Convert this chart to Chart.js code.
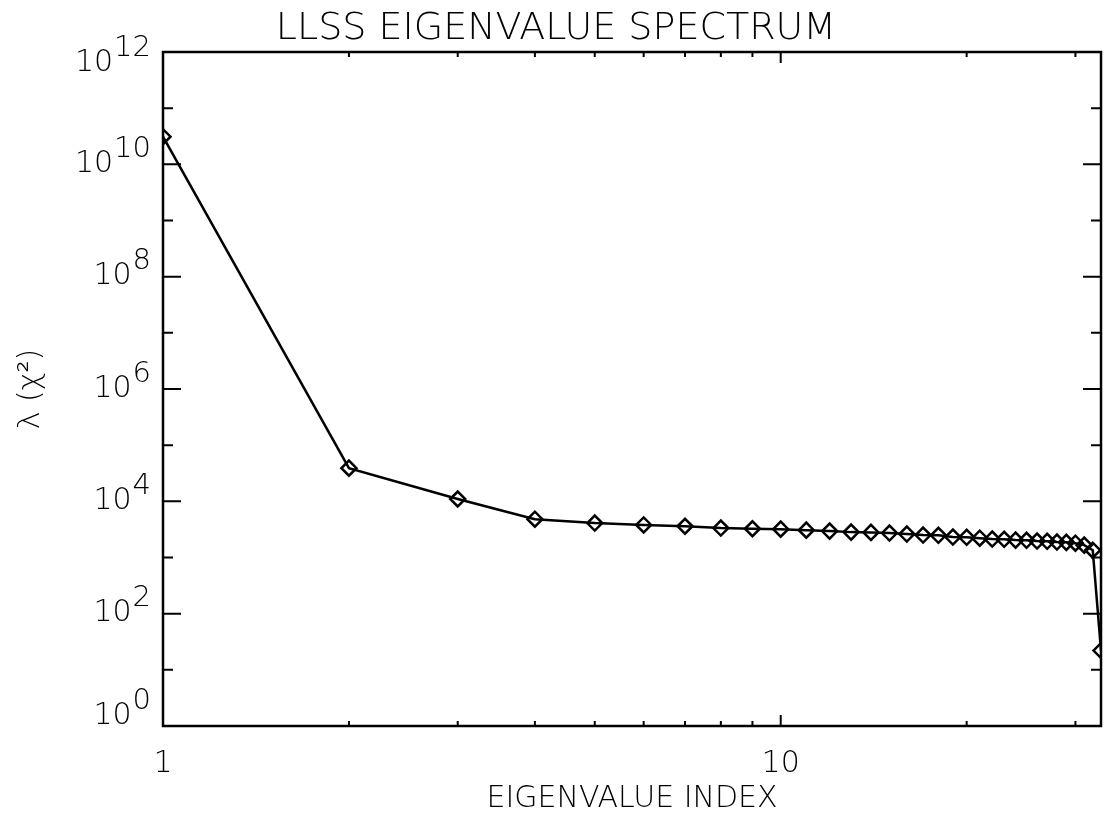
<!DOCTYPE html>
<html>
<head>
<meta charset="utf-8">
<title>LLSS Eigenvalue Spectrum</title>
<script src="https://cdn.jsdelivr.net/npm/chart.js@4.4.1/dist/chart.umd.min.js"></script>
<style>
  html, body { margin: 0; padding: 0; background: #fff; }
  #canvas { display: block; }
</style>
</head>
<body>
<canvas id="canvas" width="1111" height="825"></canvas>
<script>
//Datos (índice del autovalor y su valor lambda)
var INDICES = [1, 2, 3, 4, 5, 6, 7, 8, 9, 10, 11, 12, 13, 14, 15, 16, 17,
               18, 19, 20, 21, 22, 23, 24, 25, 26, 27, 28, 29, 30, 31, 32, 33];
var LAMBDA = [3.1e10, 3.9e4, 1.1e4, 4800, 4100, 3800, 3600, 3340, 3250, 3200,
              3070, 2950, 2830, 2800, 2720, 2610, 2510, 2480, 2310, 2290, 2210,
              2130, 2110, 2040, 2020, 1960, 1940, 1880, 1860, 1800, 1660, 1350, 22];

//Marcas del eje Y (exponentes de 10) y cuáles llevan etiqueta
var EXP_Y = [0, 1, 2, 3, 4, 5, 6, 7, 8, 9, 10, 11, 12];
var EXP_Y_ETIQUETA = [0, 2, 4, 6, 8, 10, 12];

//Marcas del eje X
var TICKS_X_MAYORES = [1, 10];
var TICKS_X_MENORES = [2, 3, 4, 5, 6, 7, 8, 9, 20, 30];
var ETIQUETAS_X = ['1', '10'];

var FUENTE = "'DejaVu Sans', sans-serif";
var PESO = '200';

Chart.defaults.color = '#000';
Chart.defaults.font.family = FUENTE;

//Plugin para el marco con las marcas hacia adentro y las etiquetas tipo 10^n
var marco = {
  id: 'marco',
  afterDraw: function(chart) {
    var ctx = chart.ctx;
    var a = chart.chartArea;
    var sx = chart.scales.x;
    var sy = chart.scales.y;

    ctx.save();
    ctx.strokeStyle = '#000';
    ctx.lineWidth = 2.5;
    ctx.strokeRect(a.left, a.top, a.right - a.left, a.bottom - a.top);

    ctx.lineWidth = 2;
    ctx.beginPath();
    EXP_Y.forEach(function(e) {
      var y = sy.getPixelForValue(Math.pow(10, e));
      var largo = (e % 2 == 0) ? 18 : 10;
      ctx.moveTo(a.left, y);
      ctx.lineTo(a.left + largo, y);
      ctx.moveTo(a.right, y);
      ctx.lineTo(a.right - largo, y);
    });
    TICKS_X_MAYORES.forEach(function(v) {
      var x = sx.getPixelForValue(v);
      ctx.moveTo(x, a.bottom);
      ctx.lineTo(x, a.bottom - 11);
      ctx.moveTo(x, a.top);
      ctx.lineTo(x, a.top + 11);
    });
    TICKS_X_MENORES.forEach(function(v) {
      var x = sx.getPixelForValue(v);
      ctx.moveTo(x, a.bottom);
      ctx.lineTo(x, a.bottom - 5);
      ctx.moveTo(x, a.top);
      ctx.lineTo(x, a.top + 5);
    });
    ctx.stroke();

    //Etiquetas del eje Y: "10" con el exponente arriba
    ctx.fillStyle = '#000';
    ctx.textBaseline = 'middle';
    ctx.textAlign = 'right';
    EXP_Y_ETIQUETA.forEach(function(e) {
      var y = sy.getPixelForValue(Math.pow(10, e));
      if (e == EXP_Y[EXP_Y.length - 1]) y += 11;
      if (e == EXP_Y[0]) y -= 10;
      var txt = String(e);
      ctx.font = PESO + ' 29px ' + FUENTE;
      var w = ctx.measureText(txt).width;
      ctx.fillText(txt, a.left - 12, y - 15);
      ctx.font = PESO + ' 30px ' + FUENTE;
      ctx.fillText('10', a.left - 13 - w, y);
    });

    //Etiquetas del eje X
    ctx.textAlign = 'center';
    ctx.font = PESO + ' 30px ' + FUENTE;
    TICKS_X_MAYORES.forEach(function(v, i) {
      ctx.fillText(ETIQUETAS_X[i], sx.getPixelForValue(v), a.bottom + 38);
    });
    ctx.restore();
  }
};

var puntos = [];
for (var i = 0; i < INDICES.length; i++) {
  puntos.push({ x: INDICES[i], y: LAMBDA[i] });
}

var ctx = document.getElementById('canvas').getContext('2d');
window.grafica = new Chart(ctx, {
  type: 'line',
  data: {
    datasets: [{
      label: 'lambda',
      data: puntos,
      borderColor: '#000',
      borderWidth: 2.5,
      tension: 0,
      pointStyle: 'rectRot',
      pointRadius: 7.5,
      pointBorderWidth: 2.5,
      pointBorderColor: '#000',
      pointBackgroundColor: 'rgba(0,0,0,0)'
    }]
  },
  options: {
    responsive: false,
    animation: false,
    layout: { padding: { left: 9, right: 8, top: 0, bottom: 4 } },
    plugins: {
      legend: { display: false },
      tooltip: { enabled: false },
      title: {
        display: true,
        text: 'LLSS EIGENVALUE SPECTRUM',
        color: '#000',
        font: { size: 38, weight: PESO },
        padding: { top: 6, bottom: 0.4 }
      }
    },
    scales: {
      x: {
        type: 'logarithmic',
        min: 1,
        max: 33,
        grid: { display: false },
        border: { display: false },
        ticks: { display: false },
        title: {
          display: true,
          text: 'EIGENVALUE INDEX',
          color: '#000',
          font: { size: 30, weight: PESO },
          padding: { top: 4, bottom: 4 }
        },
        afterFit: function(s) { s.height = 95; }
      },
      y: {
        type: 'logarithmic',
        min: 1,
        max: 1e12,
        grid: { display: false },
        border: { display: false },
        ticks: { display: false },
        title: {
          display: true,
          text: 'λ (χ²)',
          color: '#000',
          font: { size: 30, weight: PESO },
          padding: { top: 4, bottom: 4 }
        },
        afterFit: function(s) { s.width = 154; }
      }
    }
  },
  plugins: [marco]
});
</script>
</body>
</html>
